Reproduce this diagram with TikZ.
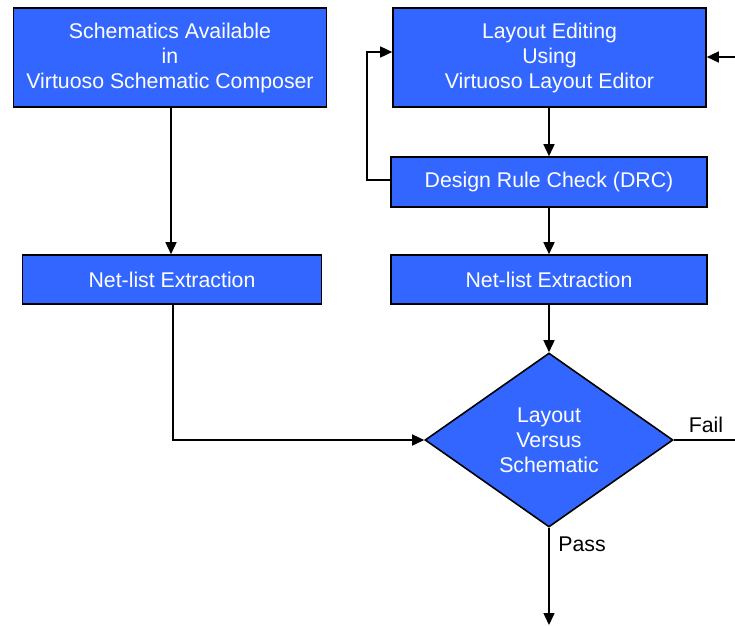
\documentclass[tikz,border=0pt]{standalone}
\usepackage{fontspec}
\setmainfont{Liberation Sans}
\usetikzlibrary{shapes.geometric,arrows.meta}

\begin{document}
\begin{tikzpicture}[x=1pt,y=1pt,
  blocco/.style={draw=black, line width=1.6pt, fill=colBlu, text=white,
    align=center, inner sep=0pt, font=\fontsize{21.3}{25}\selectfont},
  freccia/.style={line width=1.5pt, -{Triangle[length=12pt,width=11pt]}},
  linea/.style={line width=1.5pt},
  etich/.style={font=\fontsize{21.3}{25}\selectfont}]

% Colori
\definecolor{colBlu}{HTML}{3366FF}

% Area del disegno
\useasboundingbox (0,0) rectangle (735,-625);

% Blocchi
\node[blocco, minimum width=313, minimum height=99] (schem) at (170,-57.5)
  {Schematics Available\\in\\Virtuoso Schematic Composer};
\node[blocco, minimum width=313, minimum height=99] (layout) at (549.5,-57.5)
  {Layout Editing\\Using\\Virtuoso Layout Editor};
\node[blocco, minimum width=316, minimum height=50] (drc) at (549,-182)
  {Design Rule Check (DRC)};
\node[blocco, minimum width=299, minimum height=49] (netsx) at (172,-279.5)
  {Net-list Extraction};
\node[blocco, minimum width=316, minimum height=49] (netdx) at (549,-279.5)
  {Net-list Extraction};

% Rombo LVS
\node[blocco, diamond, minimum width=248, minimum height=174] (lvs) at (549,-440)
  {Layout\\Versus\\Schematic};

% Estremi liberi
\coordinate (ritorno) at (735,-57);
\coordinate (fail) at (735,-440);
\coordinate (pass) at (549,-625);
\coordinate (giro) at (367,-180);

% Collegamenti
\draw[freccia] (schem.south -| 171,0) -- (netsx.north -| 171,0);
\draw[freccia] (layout.south -| drc.north) -- (drc.north);
\draw[freccia] (drc.south) -- (netdx.north);
\draw[freccia] (netdx.south) -- (lvs.north);
\draw[freccia] (netsx.south -| 173,0) |- (lvs.west);
\draw[freccia] (drc.west |- giro) -- (giro) |- ([yshift=5.5]layout.west);
\draw[freccia] (ritorno) -- (layout.east |- ritorno);
\draw[linea] (lvs.east) -- (fail);
\draw[freccia] (lvs.south) -- (pass);

% Etichette
\node[etich] (lfail) at (706,-425) {Fail};
\node[etich] (lpass) at (582,-544) {Pass};

\end{tikzpicture}
\end{document}
